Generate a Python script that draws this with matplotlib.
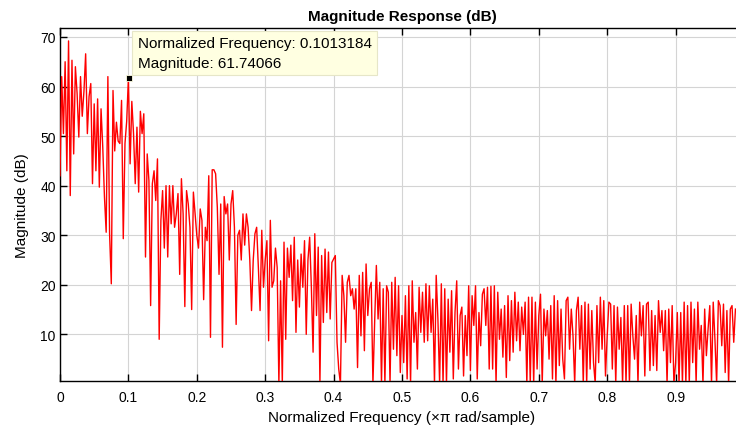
import numpy as np
import matplotlib.pyplot as plt

plt.rcParams['font.family'] = ['Liberation Sans', 'DejaVu Sans']

# magnitude (dB), one list per 0.1 band, step 0.0025
mag_00 = [42, 62, 50.5, 65, 43, 69.2, 38, 65.3, 46.4, 64, 58.6, 49.8, 62, 54, 59, 66.6,
          50.5, 58, 60.6, 40.4, 56.5, 43, 57.5, 39.7, 55.5, 47.8, 37.7, 30.6, 62, 30.3,
          20.2, 59.2, 47, 52.8, 49, 48.5, 57.2, 29.3, 48.5, 53]
mag_01 = [61.7, 44.4, 57, 50.5, 40.4, 51.8, 38.7, 55, 50.5, 54.5, 25.6, 46.4, 41, 15.8,
          40.4, 43, 37, 45.4, 9, 33, 39, 27.4, 40, 25.6, 40, 32.3, 40, 31.6, 34.3, 38.4,
          22.1, 41.4, 34.3, 15.6, 39, 36.3, 31.6, 15, 38.7, 34.3]
mag_02 = [30, 27.4, 35.3, 33, 17, 31.6, 28.9, 42, 9.4, 43.2, 43.2, 42.4, 35.6, 22.1, 36.3,
          7.4, 37.8, 34.3, 36.3, 25, 36.3, 39, 31.6, 12, 30, 31, 25, 34.3, 28, 34.3,
          31.6, 25, 14.8, 25, 30.3, 31.6, 23.5, 14.8, 31, 19.5]
mag_03 = [25, 28.9, 8.7, 33, 19.5, 20.8, 27.4, 23.5, 0, 20.8, 0, 28.6, 9, 27.4, 21.5,
          28, 16.8, 29.6, 10.4, 25, 15.5, 26.2, 19.5, 28.9, 10, 25, 29.6, 19.5, 6.4, 30.3,
          13.8, 27.6, 0, 25.9, 12.4, 27.2, 14.4, 26.6, 13.1, 24.5]
mag_04 = [25.2, 25.9, 8.4, 3, 0, 21.9, 17.8, 8.4, 20.5, 21.9, 17.8, 19.2, 15.1, 19.2, 3.3,
          21.9, 9.7, 22.5, 6.7, 24.2, 13.8, 19.2, 20.5, 0, 12.4, 23.9, 13.1, 20.5, 0, 19.2,
          0, 19.8, 18.5, 0, 20.5, 7, 21.5, 5.7, 19.8, 2.3]
mag_05 = [13.8, 4.3, 17.8, 1, 19.8, 0, 20.8, 8.4, 14.4, 3, 19.5, 10.4, 18.5, 8.4, 20.2,
          8.7, 19.8, 10.4, 17.1, 0, 21.9, 13.1, 0, 20.2, 0, 19.2, 0, 17.1, 6.4, 18.8,
          1, 14.4, 20.8, 3, 13.8, 15.5, 1.6, 13.8, 5.7, 19.8]
mag_06 = [2.7, 17.8, 11.8, 19.8, 1, 14.4, 7.7, 18.1, 19.2, 11.8, 19.5, 3, 19.7, 3, 19.8,
          0, 18.5, 9, 15.1, 5.4, 15.8, 1.3, 17.8, 4.7, 16.8, 6.4, 18.5, 8.7, 16.5, 6.7,
          15.5, 10, 16.5, 0, 17.5, 0, 17.5, 0, 16.5, 3]
mag_07 = [13.8, 18.1, 0, 15.1, 9.7, 14.8, 5, 15.8, 1, 17.8, 0, 16.8, 3.7, 15.1, 5,
          1, 16.8, 17.5, 7, 15.1, 9.7, 0, 14.8, 17.5, 7, 15.8, 0, 16.5, 0, 16.1,
          3, 14.8, 4.3, 0, 15.8, 4.3, 17.5, 7, 16.8, 1.6]
mag_08 = [9.7, 16.5, 16.1, 3, 15.8, 0, 15.5, 7, 13.4, 0, 15.8, 0, 15.8, 0, 16.1,
          9.7, 5, 13.8, 0, 16.5, 9.7, 15.8, 1.6, 16.1, 16.5, 2.7, 14.8, 3.7, 13.8, 2.7,
          16.8, 10.4, 14.8, 6.7, 14.8, 0, 15.1, 4.3, 15.8, 0]
mag_09 = [4.3, 14.4, 0, 14.4, 0, 16.5, 0, 15.8, 0, 16.5, 4.3, 15.1, 0, 16.5, 7,
          11.8, 0, 15.1, 5.7, 11.1, 15.8, 0, 16.5, 9, 0, 16.8, 15.8, 7.7, 16.1, 2.3,
          14.8, 0, 15.1, 15.8, 8.4, 15.1]
bands = [mag_00, mag_01, mag_02, mag_03, mag_04, mag_05, mag_06, mag_07, mag_08, mag_09]
df = 0.0025

marker_f = 0.1013184
marker_mag = 61.74066

freq = np.concatenate([k * 0.1 + np.arange(len(b)) * df for k, b in enumerate(bands)])
mag = np.concatenate([np.array(b, dtype=float) for b in bands])

fig = plt.figure(figsize=(7.36, 4.27), dpi=100)
# axes run a little past the right edge, as in the cropped original
ax = fig.add_axes([60 / 736, 0.106, 684 / 736, 0.826])

ax.plot(freq, mag, color='#ff0000', lw=1.0, zorder=3)
ax.plot(marker_f, marker_mag, 's', color='k', ms=4.5, mec='#ffffe0', mew=0.6, zorder=5)

ax.set_xlim(0, 1.0)
ax.set_ylim(0.64, 71.8)
ax.set_xticks(np.arange(0, 0.95, 0.1))
ax.set_xticklabels(['0', '0.1', '0.2', '0.3', '0.4', '0.5', '0.6', '0.7', '0.8', '0.9'])
ax.set_yticks(np.arange(10, 71, 10))

ax.grid(True, color='#d4d4d4', lw=0.8)
ax.set_axisbelow(True)
ax.tick_params(direction='in', length=5, width=1, labelsize=10, top=True, right=False)
ax.tick_params(axis='x', pad=7)
ax.tick_params(axis='y', pad=3)
ax.spines['right'].set_visible(False)
for s in ['left', 'bottom', 'top']:
    ax.spines[s].set_linewidth(1.0)

ax.set_title('Magnitude Response (dB)', fontsize=11, fontweight='bold', pad=6)
ax.set_xlabel('Normalized Frequency (\u00d7\u03c0 rad/sample)', fontsize=11, labelpad=4)
ax.set_ylabel('Magnitude (dB)', fontsize=11, labelpad=8)

# data tip box
ax.text(0.1135, 70.1, f'Normalized Frequency: {marker_f:.7f}\nMagnitude: {marker_mag:.5f}',
        fontsize=11, va='top', ha='left', linespacing=1.5, zorder=6,
        bbox=dict(boxstyle='square,pad=0.35', fc='#ffffe1', ec='#e6e6c8', lw=0.8))

fig.savefig('out.png', dpi=100)
